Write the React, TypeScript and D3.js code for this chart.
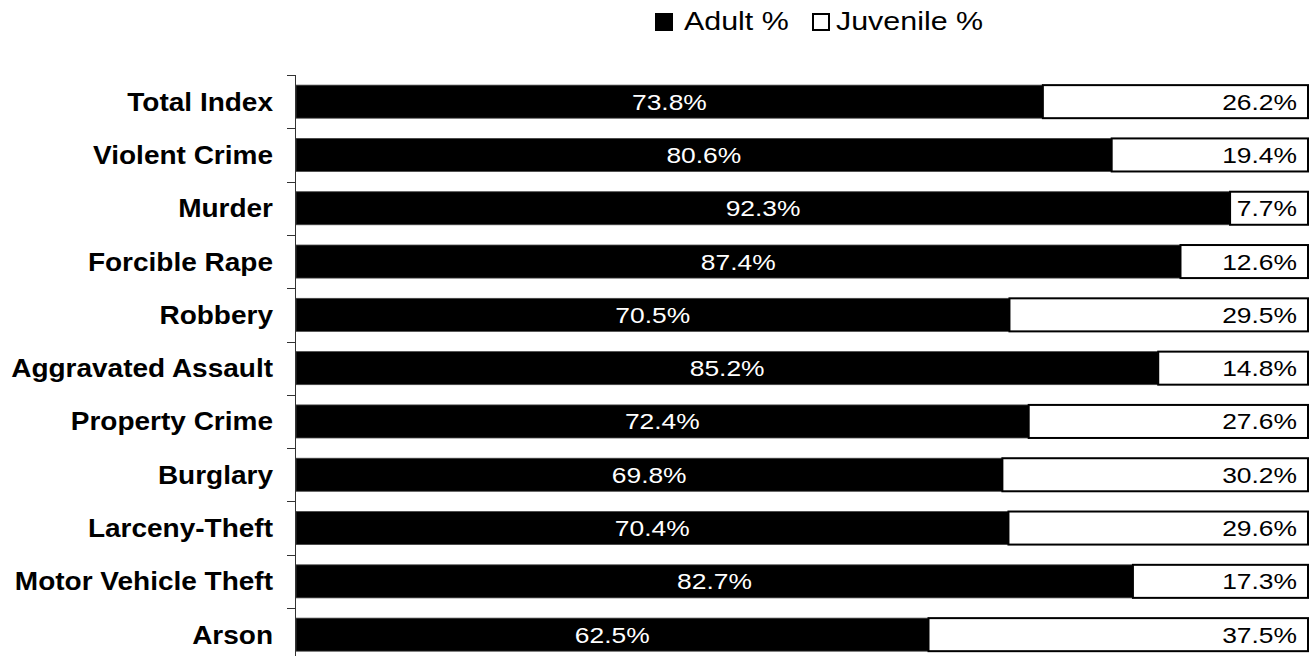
import React from "react";
import * as d3 from "d3";

const categories = [
  "Total Index",
  "Violent Crime",
  "Murder",
  "Forcible Rape",
  "Robbery",
  "Aggravated Assault",
  "Property Crime",
  "Burglary",
  "Larceny-Theft",
  "Motor Vehicle Theft",
  "Arson",
];
const adultPct = [73.8, 80.6, 92.3, 87.4, 70.5, 85.2, 72.4, 69.8, 70.4, 82.7, 62.5];
const juvenilePct = [26.2, 19.4, 7.7, 12.6, 29.5, 14.8, 27.6, 30.2, 29.6, 17.3, 37.5];
const seriesNames = ["Adult %", "Juvenile %"];

const W = 1312;
const H = 656;
const FONT = "'Liberation Sans', Arial, Helvetica, sans-serif";

export default function App() {
  const x = d3.scaleLinear().domain([0, 100]).range([296, 1308]);
  const step = 53.3;
  const y = d3
    .scaleBand<string>()
    .domain(categories)
    .range([75, 75 + step * categories.length])
    .paddingInner(0.38)
    .paddingOuter(0.19);
  const bw = y.bandwidth();
  const boundaries = d3.range(categories.length + 1).map((i) => 75 + i * y.step());

  const sText = (tx: number, ty: number, sx: number) => `translate(${tx},${ty}) scale(${sx},1)`;

  return (
    <svg
      width={W}
      height={H}
      style={{ position: "absolute", left: 0, top: 0, background: "#fff" }}
      fontFamily={FONT}
    >
      <rect x={0} y={0} width={W} height={H} fill="#fff" />
      {/* Legend */}
      <g>
        <rect x={655} y={13} width={18} height={18} fill="#000" />
        <text transform={sText(684, 30, 1.17)} fontSize={26} fill="#000">
          {seriesNames[0]}
        </text>
        <rect x={813} y={14} width={16} height={16} fill="#fff" stroke="#000" strokeWidth={2} />
        <text transform={sText(836, 30, 1.17)} fontSize={26} fill="#000">
          {seriesNames[1]}
        </text>
      </g>
      {/* Bars */}
      {categories.map((c, i) => {
        const y0 = y(c)!;
        const a = adultPct[i];
        const j = juvenilePct[i];
        const xa0 = x(0);
        const xa1 = x(a);
        const xj1 = x(a + j);
        const cy = y0 + bw / 2;
        return (
          <g key={c}>
            <rect x={xa0} y={y0} width={xa1 - xa0} height={bw} fill="#000" stroke="#444" strokeWidth={0.8} />
            <rect x={xa1} y={y0} width={xj1 - xa1} height={bw} fill="#fff" stroke="#000" strokeWidth={2} />
            <text
              transform={sText((xa0 + xa1) / 2, cy + 8, 1.2)}
              textAnchor="middle"
              fontSize={22}
              fill="#fff"
            >
              {a.toFixed(1)}%
            </text>
            <text transform={sText(xj1 - 11, cy + 8, 1.2)} textAnchor="end" fontSize={22} fill="#000">
              {j.toFixed(1)}%
            </text>
            <text
              transform={sText(273, cy + 9, 1.12)}
              textAnchor="end"
              fontSize={25}
              fontWeight="bold"
              fill="#000"
            >
              {c}
            </text>
          </g>
        );
      })}
      {/* Axis */}
      <line x1={295.5} x2={295.5} y1={75} y2={boundaries[boundaries.length - 1]} stroke="#333" strokeWidth={1} />
      {boundaries.map((b, i) => (
        <line key={i} x1={287} x2={295.5} y1={Math.round(b) + 0.5} y2={Math.round(b) + 0.5} stroke="#333" strokeWidth={1} />
      ))}
    </svg>
  );
}
